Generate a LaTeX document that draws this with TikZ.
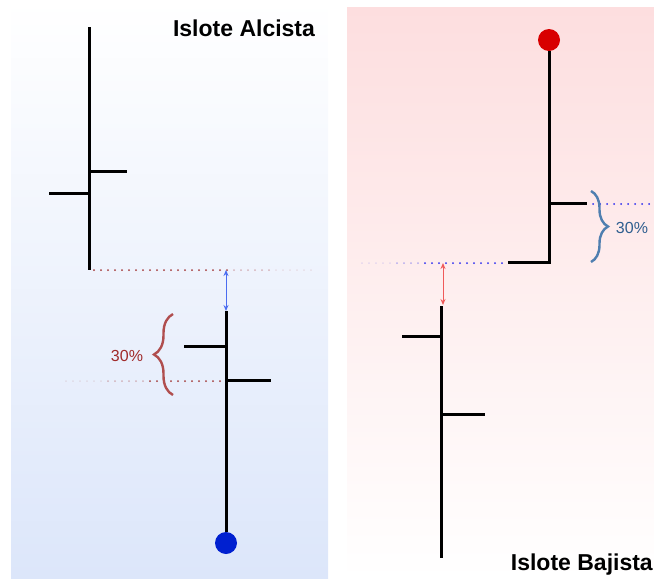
\documentclass[tikz,border=0pt]{standalone}
\usepackage{fontspec}
\setmainfont{Liberation Sans}
\usetikzlibrary{arrows.meta,decorations.pathreplacing}

\definecolor{fondoazul}{HTML}{DCE6FA}
\definecolor{fondorosa}{HTML}{FDDEDF}
\definecolor{rojollave}{HTML}{B04E4E}
\definecolor{rojotexto}{HTML}{A02A2A}
\definecolor{rojopunto}{HTML}{A33A3A}
\definecolor{rojoflecha}{HTML}{F05A5A}
\definecolor{rojobola}{HTML}{D80000}
\definecolor{azulllave}{HTML}{4F7FB0}
\definecolor{azultexto}{HTML}{2F5F90}
\definecolor{azulpunto}{HTML}{2A2AF0}
\definecolor{azulflecha}{HTML}{4A6CF0}
\definecolor{azulbola}{HTML}{0020D0}

\begin{document}
\begin{tikzpicture}[x=1pt,y=-1pt,
	barra/.style={line width=3pt},
	punteado/.style={line width=2pt, line cap=round, dash pattern=on 0pt off 7pt},
	llave/.style={decorate, decoration={brace, amplitude=#1}, line width=2.4pt},
	cota/.style={{Stealth[length=6pt,width=5pt]}-{Stealth[length=6pt,width=5pt]}, line width=1pt},
	bola/.style={circle, fill=#1, minimum size=22pt, inner sep=0pt},
	titulo/.style={font=\bfseries\fontsize{23}{26}\selectfont, inner sep=0pt},
	porcentaje/.style={font=\fontsize{16}{18}\selectfont, inner sep=0pt}]

	\useasboundingbox (0,0) rectangle (654,579);
	\shade[top color=white, bottom color=fondoazul] (11,0) rectangle (328,578);
	\shade[top color=fondorosa, bottom color=white] (347,7) rectangle (654,579);

	% islote alcista
	\node (t1) [titulo] at (244,28) {Islote Alcista};

	\coordinate (a0) at (89,27);
	\coordinate (a1) at (89,270);
	\coordinate (a2) at (89,171);
	\coordinate (a3) at (127,171);
	\coordinate (a4) at (89,193);
	\coordinate (a5) at (49,193);

	\node (b0) [bola=azulbola] at (226,543) {};
	\coordinate (b1) at (226,311);
	\coordinate (b2) at (226,346);
	\coordinate (b3) at (184,346);
	\coordinate (b4) at (226,380);
	\coordinate (b5) at (271,380);

	\path[barra]
	(a0) edge (a1)
	(a2) edge (a3)
	(a4) edge (a5)
	(b0) edge (b1)
	(b2) edge (b3)
	(b4) edge (b5);

	\coordinate (p0) at (94,270);
	\coordinate (p1) at (234,270);
	\coordinate (p2) at (276,270);
	\coordinate (p3) at (318,270);
	\coordinate (q0) at (220,381);
	\coordinate (q1) at (143,381);
	\coordinate (q2) at (101,381);
	\coordinate (q3) at (59,381);

	\path[punteado, rojopunto]
	(p0) edge (p1)
	(p1) edge[opacity=0.35] (p2)
	(p2) edge[opacity=0.12] (p3)
	(q0) edge (q1)
	(q1) edge[opacity=0.35] (q2)
	(q2) edge[opacity=0.12] (q3);

	\coordinate (c0) at (226,270);
	\draw[cota, azulflecha] (c0) -- (b1);

	\coordinate (l0) at (173,395);
	\coordinate (l1) at (173,314);
	\draw[llave=19pt, rojollave] (l0) -- (l1);
	\node (r1) [porcentaje, rojotexto] at (127,356) {30\%};

	% islote bajista
	\node (t2) [titulo, anchor=east] at (653,565) {Islote Bajista};

	\node (d0) [bola=rojobola] at (549,40) {};
	\coordinate (d1) at (549,263.5);
	\coordinate (d2) at (549,203);
	\coordinate (d3) at (587,203);
	\coordinate (d4) at (550.5,262);
	\coordinate (d5) at (508,262);

	\coordinate (e0) at (441,306);
	\coordinate (e1) at (441,558);
	\coordinate (e2) at (441,336);
	\coordinate (e3) at (402,336);
	\coordinate (e4) at (441,414);
	\coordinate (e5) at (485,414);

	\path[barra]
	(d0) edge (d1)
	(d2) edge (d3)
	(d4) edge (d5)
	(e0) edge (e1)
	(e2) edge (e3)
	(e4) edge (e5);

	\coordinate (s0) at (502,263);
	\coordinate (s1) at (418,263);
	\coordinate (s2) at (390,263);
	\coordinate (s3) at (355,263);
	\coordinate (u0) at (593,204);
	\coordinate (u1) at (654,204);

	\path[punteado, azulpunto]
	(s0) edge (s1)
	(s1) edge[opacity=0.35] (s2)
	(s2) edge[opacity=0.12] (s3)
	(u0) edge (u1);

	\coordinate (f0) at (443,263);
	\coordinate (f1) at (443,305);
	\draw[cota, rojoflecha] (f0) -- (f1);

	\coordinate (m0) at (591,191);
	\coordinate (m1) at (591,262);
	\draw[llave=17pt, azulllave] (m0) -- (m1);
	\node (r2) [porcentaje, azultexto] at (632,228) {30\%};

\end{tikzpicture}
\end{document}
